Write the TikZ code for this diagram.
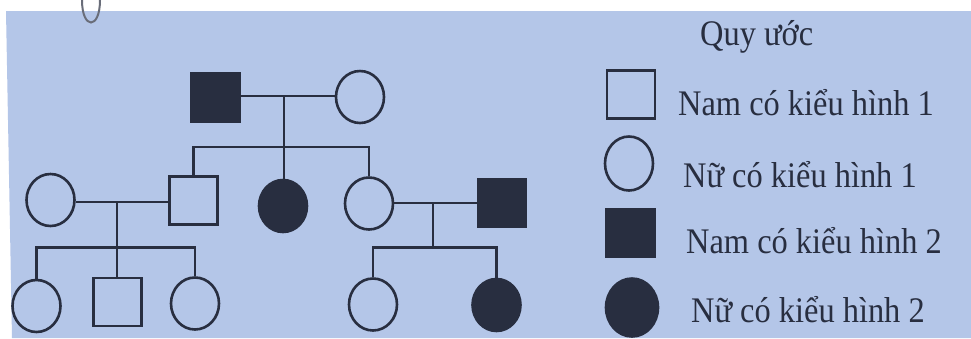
\documentclass[tikz,border=0pt]{standalone}
\usepackage{fontspec}
\setmainfont{Liberation Serif}
\usetikzlibrary{shapes.geometric}
\definecolor{paper}{RGB}{180,198,232}
\definecolor{ink}{RGB}{40,46,64}
\begin{document}
\begin{tikzpicture}[x=1pt,y=-1pt,
  conn/.style={draw=ink,line width=2.6pt},
  male/.style={rectangle,draw=ink,line width=2.6pt,minimum width=48pt,minimum height=48pt,inner sep=0pt,fill=paper},
  female/.style={ellipse,draw=ink,line width=2.6pt,minimum width=48pt,minimum height=52pt,inner sep=0pt,fill=paper},
  aff/.style={fill=ink},
  lbl/.style={anchor=base west,font=\fontsize{36}{40}\selectfont,text=ink,inner sep=0pt,xscale=0.9}]
\useasboundingbox (0,0) rectangle (971,338);
\fill[white] (0,0) rectangle (971,338);
\fill[paper] (6,11) -- (971,11) -- (971,338) -- (12,338) -- cycle;
\draw[ink!70,line width=2pt] (82,0) .. controls (82,30) and (100,30) .. (100,0);

% generation I
\node[male,aff] (I1) at (215.5,97.5) {};
\node[female] (I2) at (360,97) {};
% generation II
\node[female] (II1) at (50.5,200) {};
\node[male] (II2) at (193.5,200.5) {};
\node[female,aff] (II3) at (283,206) {};
\node[female] (II4) at (369,203.5) {};
\node[male,aff] (II5) at (502,203) {};
% generation III
\node[female] (III1) at (36.5,306) {};
\node[male] (III2) at (117.5,302) {};
\node[female] (III3) at (195,303.5) {};
\node[female] (III4) at (373,304.5) {};
\node[female,aff] (III5) at (496.5,305) {};

\coordinate (m1) at (284,96);
\coordinate (s1) at (284,147);
\coordinate (m2) at (117,202);
\coordinate (s2) at (117,247.5);
\coordinate (m3) at (433,203);
\coordinate (s3) at (433,247.5);

\draw[conn] (m1 -| I1.east) -- (m1 -| I2.west);
\draw[conn] (m1) -- (s1) -- (s1 |- II3.north);
\draw[conn] (II2.north) -- (II2.north |- s1) -- (II4.north |- s1) -- (II4.north);

\draw[conn] (m2 -| II1.east) -- (m2 -| II2.west);
\draw[conn] (m2) -- (m2 |- III2.north);
\draw[conn] (III1.north) -- (III1.north |- s2) -- (III3.north |- s2) -- (III3.north);

\draw[conn] (m3 -| II4.east) -- (m3 -| II5.west);
\draw[conn] (m3) -- (s3);
\draw[conn] (III4.north) -- (III4.north |- s3) -- (III5.north |- s3) -- (III5.north);

% legend
\node[male] (L1) at (631,94.5) {};
\node[female,minimum width=48pt,minimum height=54pt] (L2) at (629,163.5) {};
\node[male,aff] (L3) at (630.5,233) {};
\node[female,aff,minimum width=52pt,minimum height=58pt] (L4) at (632,307.5) {};
\node[lbl] (title) at (700,45) {Quy ước};
\node[lbl] (t1) at (678,115) {Nam có kiểu hình 1};
\node[lbl] (t2) at (683,187) {Nữ có kiểu hình 1};
\node[lbl] (t3) at (686,253) {Nam có kiểu hình 2};
\node[lbl] (t4) at (691,322) {Nữ có kiểu hình 2};
\end{tikzpicture}
\end{document}
